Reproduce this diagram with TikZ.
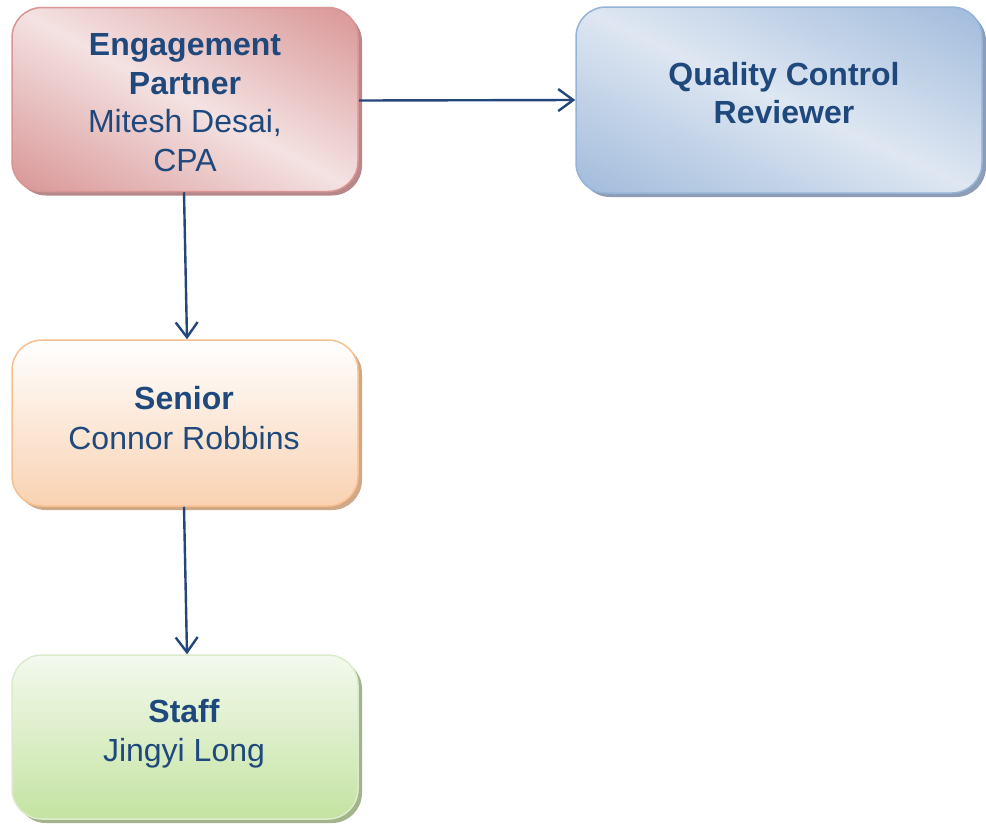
\documentclass[tikz,border=0pt]{standalone}
\usepackage{fontspec}
\setmainfont{Liberation Sans}
\usetikzlibrary{arrows.meta,shadows}
\definecolor{txtblue}{HTML}{1F497D}
\definecolor{arrblue}{HTML}{23477A}
\definecolor{redD}{HTML}{D68D8D}
\definecolor{redL}{HTML}{F4E2E2}
\definecolor{redB}{HTML}{D99594}
\definecolor{redS}{HTML}{B88888}
\definecolor{bluD}{HTML}{92B0D6}
\definecolor{bluL}{HTML}{DEE7F2}
\definecolor{bluB}{HTML}{95B3D7}
\definecolor{bluS}{HTML}{8C9DB5}
\definecolor{orT}{HTML}{FFFFFF}
\definecolor{orB}{HTML}{F9D2B2}
\definecolor{orBd}{HTML}{F9BF8F}
\definecolor{orS}{HTML}{CFA888}
\definecolor{grT}{HTML}{F3F9EE}
\definecolor{grB}{HTML}{C4E3A1}
\definecolor{grBd}{HTML}{DDEBCD}
\definecolor{grS}{HTML}{A3B38C}
\tikzset{
  box/.style={rectangle, rounded corners=30pt, minimum width=346pt, inner sep=0pt,
    line width=1.5pt},
  diagfill/.style n args={4}{fill=#2, path picture={
    \shade[top color=#1, bottom color=#1, middle color=#2, shading angle=#3]
      (-#4,-#4) rectangle (#4,#4);}},
  boxtext/.style={text=txtblue, align=center, inner sep=0pt,
    font=\fontsize{32}{38.5}\selectfont},
  conn/.style={draw=arrblue, line width=2.4pt,
    -{Straight Barb[length=15pt,width=22pt,line width=2.4pt]}}
}
\begin{document}
\begin{tikzpicture}[x=1pt,y=-1pt]
\useasboundingbox (0,0) rectangle (986,823);
\node[box, minimum height=184pt, draw=redB, diagfill={redD}{redL}{-28}{180pt},
  drop shadow={shadow xshift=4pt, shadow yshift=-4pt, fill=redS, opacity=1}]
  (ep) at (185,99.5) {};
\node[box, minimum width=406pt, minimum height=186pt, draw=bluB, diagfill={bluD}{bluL}{-24.6}{210pt},
  drop shadow={shadow xshift=4pt, shadow yshift=-4pt, fill=bluS, opacity=1}]
  (qc) at (779,100) {};
\node[box, minimum height=166pt, draw=orBd,
  top color=orT, bottom color=orB,
  drop shadow={shadow xshift=4pt, shadow yshift=-4pt, fill=orS, opacity=1}]
  (sr) at (185,423) {};
\node[box, minimum height=164pt, draw=grBd,
  top color=grT, bottom color=grB,
  drop shadow={shadow xshift=4pt, shadow yshift=-4pt, fill=grS, opacity=1}]
  (st) at (185,737) {};
\node[boxtext] (ept) at (185,102.5) {\textbf{Engagement}\\\textbf{Partner}\\Mitesh Desai,\\CPA};
\node[boxtext] (qct) at (784,93) {\textbf{Quality Control}\\\textbf{Reviewer}};
\node[boxtext, font=\fontsize{32}{40}\selectfont] (srt) at (184,418.5) {\textbf{Senior}\\Connor Robbins};
\node[boxtext, font=\fontsize{32}{39}\selectfont] (stt) at (184,734) {\textbf{Staff}\\Jingyi Long};
\draw[conn] ([yshift=-1pt]ep.east) -- (qc.west);
\draw[conn] ([xshift=-1pt]ep.south) -- ([xshift=2pt]sr.north);
\draw[conn] ([xshift=-1pt]sr.south) -- ([xshift=2pt]st.north);
\end{tikzpicture}
\end{document}
